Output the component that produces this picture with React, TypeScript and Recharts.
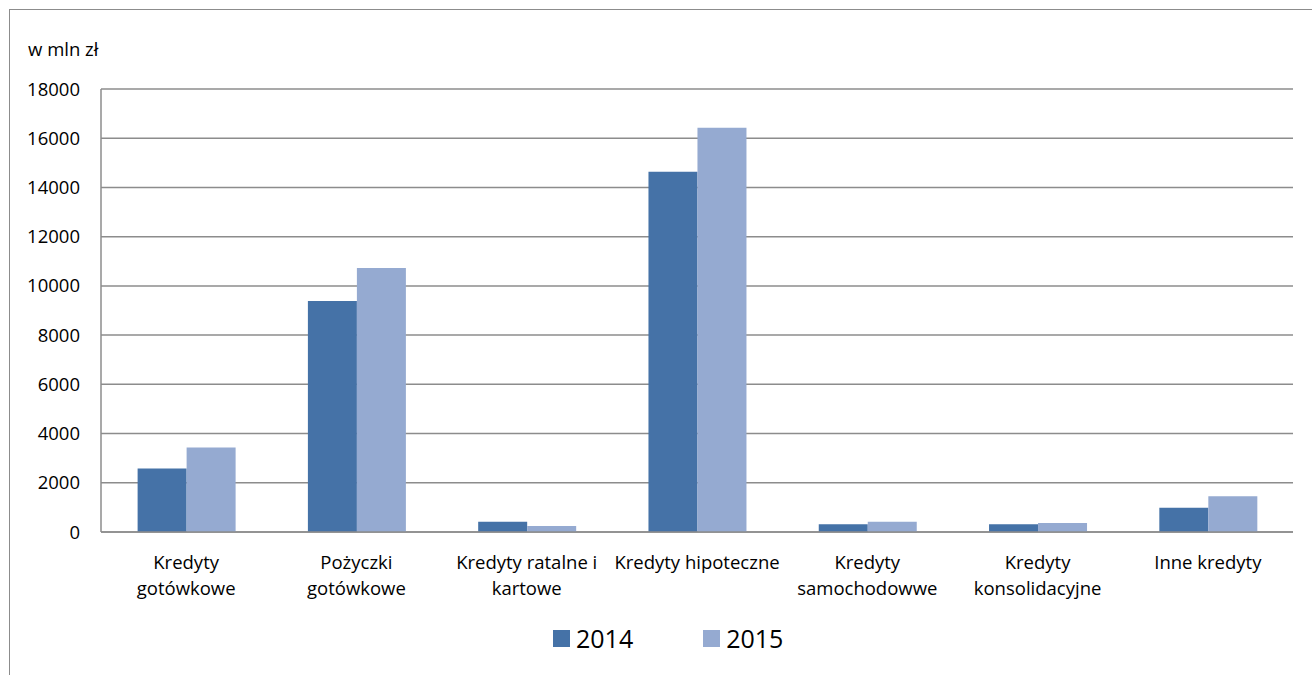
import React from 'react'
import { BarChart, Bar, XAxis, YAxis, CartesianGrid } from 'recharts'

const CATEGORIES = [
  'Kredyty gotówkowe',
  'Pożyczki gotówkowe',
  'Kredyty ratalne i kartowe',
  'Kredyty hipoteczne',
  'Kredyty samochodowwe',
  'Kredyty konsolidacyjne',
  'Inne kredyty',
]

// how each category label is broken into lines under the axis
const LABEL_LINES = [
  ['Kredyty', 'gotówkowe'],
  ['Pożyczki', 'gotówkowe'],
  ['Kredyty ratalne i', 'kartowe'],
  ['Kredyty hipoteczne'],
  ['Kredyty', 'samochodowwe'],
  ['Kredyty', 'konsolidacyjne'],
  ['Inne kredyty'],
]

const VALUES_2014 = [2580, 9390, 420, 14640, 310, 310, 990]
const VALUES_2015 = [3430, 10730, 240, 16430, 420, 370, 1450]

const Y_TICKS = [0, 2000, 4000, 6000, 8000, 10000, 12000, 14000, 16000, 18000]
const UNIT_LABEL = 'w mln zł'

const SERIES = [
  { key: 'y2014', name: '2014', color: '#4572A7' },
  { key: 'y2015', name: '2015', color: '#95AAD1' },
]

const data = CATEGORIES.map((cat, i) => ({
  cat,
  y2014: VALUES_2014[i],
  y2015: VALUES_2015[i],
}))

const FONT = '"Open Sans", sans-serif'
const GRID = '#8c8c8c'

function CategoryTick(props: any) {
  const { x, y, payload } = props
  const lines = LABEL_LINES[payload.index] ?? [payload.value]
  return (
    <text x={x} y={y} textAnchor="middle" fill="#000" fontSize={18.5} fontFamily={FONT}>
      {lines.map((l, i) => (
        <tspan key={i} x={x} y={y + 35 + i * 26}>
          {l}
        </tspan>
      ))}
    </text>
  )
}

export default function App() {
  return (
    <div
      style={{
        position: 'fixed',
        left: 0,
        top: 0,
        width: 1312,
        height: 675,
        overflow: 'hidden',
        background: '#fff',
        fontFamily: FONT,
      }}
    >
      {/* outer chart frame, runs off the right and bottom edges */}
      <div
        style={{
          position: 'absolute',
          left: 9,
          top: 9,
          width: 1400,
          height: 800,
          border: `1.5px solid ${GRID}`,
        }}
      />
      <div style={{ position: 'absolute', left: 28, top: 36, fontSize: 18.5, color: '#000' }}>
        {UNIT_LABEL}
      </div>

      <div style={{ position: 'absolute', left: 0, top: 0 }}>
        <BarChart
          width={1312}
          height={675}
          data={data}
          margin={{ top: 89, right: 19, bottom: 73, left: 0 }}
          barCategoryGap="21.5%"
          barGap={0}
        >
          <CartesianGrid vertical={false} stroke={GRID} strokeWidth={1.5} />
          <XAxis
            dataKey="cat"
            height={70}
            axisLine={{ stroke: GRID, strokeWidth: 1.5 }}
            tickLine={false}
            tickSize={0}
            interval={0}
            tick={<CategoryTick />}
          />
          <YAxis
            width={101}
            domain={[0, 18000]}
            ticks={Y_TICKS}
            interval={0}
            axisLine={{ stroke: GRID, strokeWidth: 1.5 }}
            tickLine={false}
            tickSize={0}
            tickMargin={21}
            tick={{ fill: '#000', fontSize: 18.5, fontFamily: FONT }}
          />
          {SERIES.map(s => (
            <Bar key={s.key} dataKey={s.key} name={s.name} fill={s.color} isAnimationActive={false} />
          ))}
        </BarChart>
      </div>

      {/* legend */}
      <div
        style={{
          position: 'absolute',
          left: 553,
          top: 622,
          display: 'flex',
          alignItems: 'center',
          gap: 0,
        }}
      >
        {SERIES.map((s, i) => (
          <div
            key={s.key}
            style={{ display: 'flex', alignItems: 'center', marginLeft: i === 0 ? 0 : 70 }}
          >
            <span style={{ width: 17, height: 17, background: s.color, display: 'inline-block' }} />
            <span style={{ marginLeft: 6, fontSize: 25, lineHeight: '32px', color: '#000' }}>
              {s.name}
            </span>
          </div>
        ))}
      </div>
    </div>
  )
}
